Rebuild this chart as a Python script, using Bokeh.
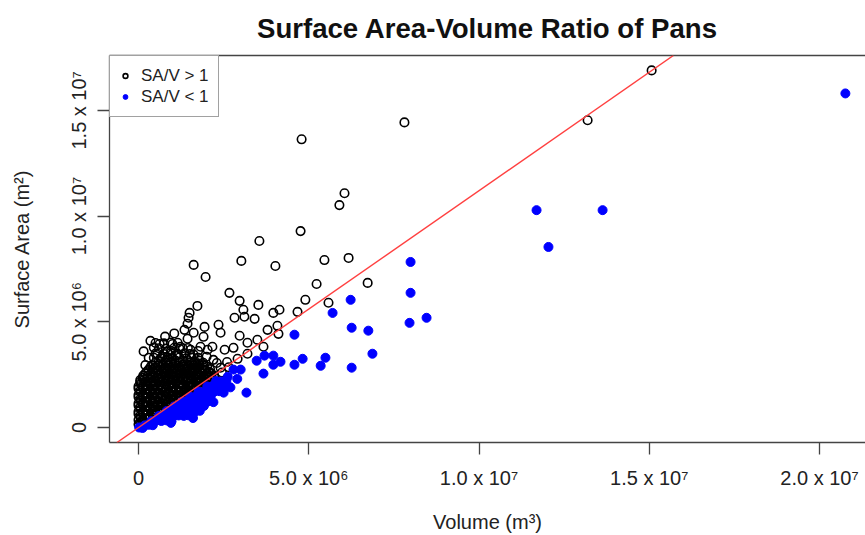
from bokeh.plotting import figure
from bokeh.models import (LinearAxis, FixedTicker, Slope, Legend, LegendItem,
                          Range1d, ColumnDataSource)
from bokeh.embed import file_html
from bokeh.resources import INLINE

# ---------------- data (units of 10^6) ----------------
# SA/V > 1  (open circles): scattered points, then the dense cluster near the origin
over_x = [
    4.79, 7.81, 13.19, 15.07, 6.05, 5.90, 4.76, 3.55, 1.62, 3.02, 4.02, 5.46, 6.17, 1.97,
    5.23, 6.73, 2.67, 2.97, 3.52, 3.08, 3.11, 2.82, 3.41, 4.14, 3.96, 4.90, 5.58, 4.67,
    1.73, 1.50, 1.47, 1.44, 2.35, 1.94, 2.41, 3.79, 4.08, 4.11, 3.49, 3.20, 2.97, 2.79,
    2.91, 3.20, 3.67, 2.53, 2.41, 0.85, 1.15, 1.44, 1.82, 2.17, 1.35, 1.62, 1.23, 1.53,
    1.91, 2.03, 2.20, 2.11, 1.82,
    0.00, 0.08,
    0.05, 0.17,
    0.00, 0.12, 0.25,
    0.06, 0.18, 0.32,
    0.05, 0.20, 0.35, 0.46,
    0.00, 0.13, 0.27, 0.41, 0.53,
    0.00, 0.12, 0.27, 0.42, 0.57, 0.66,
    0.06, 0.20, 0.34, 0.48, 0.62, 0.74,
    0.05, 0.20, 0.35, 0.50, 0.65, 0.80, 0.87,
    0.00, 0.13, 0.27, 0.41, 0.55, 0.69, 0.83, 0.95,
    0.00, 0.12, 0.27, 0.42, 0.57, 0.72, 0.87, 1.02,
    0.06, 0.20, 0.34, 0.48, 0.62, 0.76, 0.90, 1.04, 1.15,
    0.05, 0.20, 0.35, 0.50, 0.65, 0.80, 0.95, 1.10, 1.24,
    0.00, 0.13, 0.27, 0.41, 0.55, 0.69, 0.83, 0.97, 1.11, 1.25, 1.36,
    0.00, 0.12, 0.27, 0.42, 0.57, 0.72, 0.87, 1.02, 1.17, 1.32, 1.45,
    0.06, 0.20, 0.34, 0.48, 0.62, 0.76, 0.90, 1.04, 1.18, 1.32, 1.46, 1.56,
    0.05, 0.20, 0.35, 0.50, 0.65, 0.80, 0.95, 1.10, 1.25, 1.40, 1.55, 1.66,
    0.00, 0.13, 0.27, 0.41, 0.55, 0.69, 0.83, 0.97, 1.11, 1.25, 1.39, 1.53, 1.67, 1.76,
    0.00, 0.12, 0.27, 0.42, 0.57, 0.72, 0.87, 1.02, 1.17, 1.32, 1.47, 1.62, 1.77, 1.86,
    0.06, 0.20, 0.34, 0.48, 0.62, 0.76, 0.90, 1.04, 1.18, 1.32, 1.46, 1.60, 1.74, 1.88, 1.96,
    0.05, 0.20, 0.35, 0.50, 0.65, 0.80, 0.95, 1.10, 1.25, 1.40, 1.55, 1.70, 1.85, 2.04,
    0.05, 0.17, 0.31, 0.45, 0.59, 0.73, 0.87, 1.01, 1.15, 1.29, 1.43, 1.57, 1.71, 1.85, 1.99, 2.13,
    0.12, 0.27, 0.42, 0.57, 0.72, 0.87, 1.02, 1.17, 1.32, 1.47, 1.62, 1.77, 1.92, 2.10, 2.24,
    0.14, 0.27, 0.41, 0.55, 0.69, 0.83, 0.97, 1.11, 1.25, 1.39, 1.53, 1.67, 1.81, 1.95, 2.09, 2.22,
    0.20, 0.35, 0.50, 0.65, 0.80, 0.95, 1.10, 1.25, 1.40, 1.55, 1.70, 1.85, 2.00, 2.15,
    0.25, 0.40, 0.54, 0.68, 0.82, 0.96, 1.10, 1.24, 1.38, 1.52, 1.66, 1.80, 1.94, 2.06,
    0.30, 0.45, 0.60, 0.75, 0.90, 1.05, 1.20, 1.35, 1.50, 1.65, 1.80, 1.95, 2.10,
    0.35, 0.50, 0.64, 0.78, 0.92, 1.06, 1.20, 1.34, 1.48, 1.62, 1.76, 1.90, 2.02,
    0.40, 0.57, 0.72, 0.87, 1.02, 1.17, 1.32, 1.47, 1.62, 1.77, 1.92,
    0.50, 0.66, 0.80, 0.94, 1.08, 1.22, 1.36, 1.50, 1.64, 1.78, 1.90,
    0.60, 0.80, 0.95, 1.10, 1.30, 1.45, 1.65, 1.80,
    0.45, 0.65, 0.85, 1.00, 1.20, 1.40, 1.55, 1.75,
    0.55, 0.75, 0.95, 1.15, 1.35, 1.50,
    0.60, 0.80, 1.05, 1.20, 1.45,
    0.50, 0.75, 0.95,
    0.15, 0.30, 0.50, 0.70, 0.95, 1.10, 1.30, 1.62, 1.75, 2.00, 2.30, 2.45, 0.20, 0.45,
    1.00, 2.60, 2.65, 0.62, 0.35, 0.78, 1.05,
]
over_y = [
    13.63, 14.43, 14.53, 16.89, 11.08, 10.52, 9.29, 8.82, 7.69, 7.88, 7.64, 7.92, 8.02, 7.12,
    6.79, 6.84, 6.37, 5.99, 5.80, 5.57, 5.24, 5.19, 5.14, 5.57, 5.42, 6.04, 5.90, 5.47,
    5.75, 5.42, 5.19, 4.91, 4.86, 4.76, 4.48, 4.62, 4.81, 4.43, 4.15, 4.01, 4.34, 3.77,
    3.25, 3.49, 3.82, 3.68, 2.83, 3.58, 4.01, 4.20, 3.82, 3.82, 4.62, 4.48, 3.82, 3.68,
    4.29, 3.68, 3.20, 2.59, 2.26,
    0.15, 0.22,
    0.26, 0.27,
    0.36, 0.33, 0.38,
    0.46, 0.44, 0.47,
    0.55, 0.58, 0.52, 0.57,
    0.64, 0.67, 0.63, 0.66, 0.65,
    0.76, 0.73, 0.78, 0.74, 0.77, 0.79,
    0.86, 0.84, 0.87, 0.85, 0.83, 0.86,
    0.95, 0.98, 0.93, 0.96, 0.94, 0.97, 0.99,
    1.04, 1.07, 1.05, 1.03, 1.06, 1.04, 1.07, 1.05,
    1.15, 1.13, 1.18, 1.14, 1.17, 1.12, 1.16, 1.19,
    1.26, 1.24, 1.27, 1.25, 1.23, 1.26, 1.24, 1.27, 1.25,
    1.34, 1.37, 1.33, 1.36, 1.38, 1.34, 1.35, 1.37, 1.39,
    1.44, 1.47, 1.45, 1.43, 1.46, 1.44, 1.47, 1.45, 1.43, 1.46, 1.44,
    1.55, 1.53, 1.57, 1.54, 1.56, 1.52, 1.58, 1.55, 1.53, 1.57, 1.59,
    1.66, 1.64, 1.67, 1.65, 1.63, 1.66, 1.64, 1.67, 1.65, 1.63, 1.66, 1.64,
    1.74, 1.77, 1.73, 1.76, 1.75, 1.78, 1.73, 1.76, 1.74, 1.77, 1.75, 1.79,
    1.84, 1.87, 1.85, 1.83, 1.86, 1.84, 1.87, 1.85, 1.83, 1.86, 1.84, 1.87, 1.85, 1.86,
    1.95, 1.93, 1.97, 1.94, 1.96, 1.92, 1.97, 1.95, 1.93, 1.96, 1.94, 1.97, 1.95, 1.99,
    2.06, 2.04, 2.07, 2.05, 2.03, 2.06, 2.04, 2.07, 2.05, 2.03, 2.06, 2.04, 2.07, 2.05, 2.06,
    2.14, 2.17, 2.13, 2.16, 2.15, 2.18, 2.13, 2.16, 2.14, 2.17, 2.15, 2.13, 2.16, 2.19,
    2.24, 2.27, 2.25, 2.23, 2.26, 2.24, 2.27, 2.25, 2.23, 2.26, 2.24, 2.27, 2.25, 2.23, 2.26, 2.28,
    2.35, 2.33, 2.37, 2.34, 2.36, 2.32, 2.37, 2.35, 2.33, 2.36, 2.34, 2.37, 2.35, 2.38, 2.36,
    2.46, 2.44, 2.47, 2.45, 2.43, 2.46, 2.44, 2.47, 2.45, 2.43, 2.46, 2.44, 2.47, 2.45, 2.43, 2.46,
    2.56, 2.53, 2.57, 2.54, 2.56, 2.52, 2.57, 2.55, 2.53, 2.56, 2.54, 2.57, 2.55, 2.53,
    2.66, 2.64, 2.67, 2.65, 2.63, 2.66, 2.64, 2.67, 2.65, 2.63, 2.66, 2.64, 2.67, 2.65,
    2.74, 2.77, 2.73, 2.76, 2.75, 2.78, 2.73, 2.76, 2.74, 2.77, 2.75, 2.73, 2.76,
    2.86, 2.84, 2.87, 2.85, 2.83, 2.86, 2.84, 2.87, 2.85, 2.83, 2.86, 2.84, 2.87,
    2.95, 2.93, 2.97, 2.94, 2.96, 2.92, 2.97, 2.95, 2.93, 2.96, 2.94,
    3.06, 3.04, 3.07, 3.05, 3.03, 3.06, 3.04, 3.07, 3.05, 3.03, 3.06,
    3.14, 3.17, 3.13, 3.16, 3.15, 3.18, 3.13, 3.16,
    3.30, 3.28, 3.32, 3.29, 3.31, 3.27, 3.32, 3.30,
    3.50, 3.48, 3.52, 3.49, 3.51, 3.47,
    3.75, 3.73, 3.77, 3.74, 3.76,
    4.00, 3.98, 4.02,
    3.60, 3.30, 3.50, 3.35, 3.62, 3.42, 3.75, 3.45, 3.62, 3.35, 3.05, 2.60, 2.95, 3.78,
    3.95, 3.10, 2.85, 3.95, 4.10, 4.30, 4.45,
]

# SA/V < 1  (filled blue): scattered points, then the dense band near the origin
under_x = [
    20.76, 11.69, 13.63, 12.04, 7.99, 7.99, 6.23, 5.70, 6.26, 6.75, 7.96, 8.46, 6.87, 5.49,
    4.82, 6.26, 5.35, 4.58, 4.58, 4.17, 3.96, 3.96, 3.70, 3.47, 3.67, 3.17, 2.79, 3.00, 2.50,
    0.02, 0.12,
    0.18, 0.30, 0.42,
    0.38, 0.52, 0.67, 0.82, 0.97,
    0.60, 0.73, 0.88, 1.03, 1.18, 1.33, 1.46,
    0.83, 0.95, 1.08, 1.23, 1.38, 1.52, 1.67, 1.80,
    1.05, 1.17, 1.32, 1.47, 1.62, 1.77, 1.92,
    1.28, 1.42, 1.57, 1.72, 1.87, 2.02,
    1.52, 1.67, 1.82, 1.97, 2.12,
    1.77, 1.92, 2.07, 2.22, 2.37,
    2.02, 2.17, 2.32, 2.47,
    2.28, 2.43, 2.58,
    2.70, 2.62, 2.90, 2.20, 2.55, 1.60, 0.95,
]
under_y = [
    15.80, 10.28, 10.28, 8.54, 7.83, 6.37, 6.04, 5.42, 4.72, 4.58, 4.95, 5.19, 3.49, 3.30,
    3.25, 2.83, 2.92, 4.39, 2.97, 3.11, 2.97, 3.40, 3.40, 3.16, 2.55, 1.65, 2.74, 2.74, 1.65,
    0.00, -0.02,
    0.10, 0.13, 0.11,
    0.30, 0.33, 0.31, 0.34, 0.30,
    0.55, 0.53, 0.56, 0.54, 0.57, 0.55, 0.58,
    0.78, 0.76, 0.79, 0.77, 0.80, 0.78, 0.76, 0.79,
    1.00, 1.02, 0.99, 1.01, 1.03, 1.00, 1.02,
    1.22, 1.24, 1.21, 1.23, 1.25, 1.22,
    1.45, 1.47, 1.44, 1.46, 1.48,
    1.70, 1.68, 1.71, 1.69, 1.72,
    1.94, 1.96, 1.93, 1.95,
    2.20, 2.18, 2.21,
    1.90, 2.40, 2.30, 1.20, 2.05, 0.45, 0.22,
]

# reference line (SA = slope * V + intercept)
line_slope = 1.12
line_intercept = 0.0

x_ticks = [0, 5, 10, 15, 20]
x_tick_labels = ["0", "5.0 x 10\u2076", "1.0 x 10\u2077", "1.5 x 10\u2077", "2.0 x 10\u2077"]
y_ticks = [0, 5, 10, 15]
y_tick_labels = ["0", "5.0 x 10\u2076", "1.0 x 10\u2077", "1.5 x 10\u2077"]

FONT = "Liberation Sans"
AX = "#444444"

p = figure(width=865, height=535, output_backend="svg", toolbar_location=None,
           x_range=Range1d(-0.852, 21.351), y_range=Range1d(-0.708, 17.594),
           min_border_left=109, min_border_right=0, min_border_top=55,
           min_border_bottom=92, background_fill_color="white",
           border_fill_color="white")
p.outline_line_color = None
p.grid.visible = False

p.title.text = "Surface Area-Volume Ratio of Pans"
p.title.align = "center"
p.title.text_font = FONT
p.title.text_font_size = "27.6px"
p.title.text_font_style = "bold"
p.title.text_color = "#111111"
p.title.vertical_align = "top"
p.title.standoff = 20

for ax in (p.xaxis[0], p.yaxis[0]):
    ax.axis_line_color = AX
    ax.axis_line_width = 1.3
    ax.major_tick_line_color = AX
    ax.major_tick_line_width = 1.3
    ax.major_tick_out = 12
    ax.major_tick_in = 0
    ax.minor_tick_line_color = None
    ax.major_label_text_font = FONT
    ax.major_label_text_font_size = "20px"
    ax.major_label_text_color = "#222222"
    ax.axis_label_text_font = FONT
    ax.axis_label_text_font_size = "20px"
    ax.axis_label_text_font_style = "normal"
    ax.axis_label_text_color = "#222222"

p.xaxis[0].ticker = FixedTicker(ticks=x_ticks)
p.xaxis[0].major_label_overrides = dict(zip(x_ticks, x_tick_labels))
p.xaxis[0].axis_label = "Volume (m\u00b3)"
p.xaxis[0].major_label_standoff = 12
p.xaxis[0].axis_label_standoff = 19

p.yaxis[0].ticker = FixedTicker(ticks=y_ticks)
p.yaxis[0].major_label_overrides = dict(zip(y_ticks, y_tick_labels))
p.yaxis[0].major_label_orientation = "vertical"
p.yaxis[0].axis_label = "Surface Area (m\u00b2)"
p.yaxis[0].major_label_standoff = 7
p.yaxis[0].axis_label_standoff = 33

top_axis = LinearAxis(ticker=FixedTicker(ticks=[]), axis_line_color=AX,
                      axis_line_width=1.3, major_tick_line_color=None,
                      minor_tick_line_color=None, major_label_text_font_size="0px")
p.add_layout(top_axis, "above")

src_over = ColumnDataSource(dict(x=over_x, y=over_y))
src_under = ColumnDataSource(dict(x=under_x, y=under_y))

r_over = p.scatter("x", "y", source=src_over, marker="circle", size=8.5,
                   fill_color=None, line_color="black", line_width=1.6)
r_under = p.scatter("x", "y", source=src_under, marker="circle", size=9,
                    fill_color="#0000ff", line_color="#0000ff", line_width=1)

p.add_layout(Slope(gradient=line_slope, y_intercept=line_intercept,
                   line_color="#ff4040", line_width=1.4))

legend = Legend(items=[LegendItem(label="SA/V > 1", renderers=[r_over]),
                       LegendItem(label="SA/V < 1", renderers=[r_under])],
                location="top_left", margin=0, padding=9, spacing=0,
                label_height=21, glyph_height=21, glyph_width=12, label_standoff=10,
                label_text_font=FONT, label_text_font_size="17px",
                label_text_color="#222222",
                border_line_color=AX, border_line_width=1.3,
                background_fill_color="white", background_fill_alpha=1.0)
p.add_layout(legend)

open("out.html", "w").write(file_html(p, INLINE))
